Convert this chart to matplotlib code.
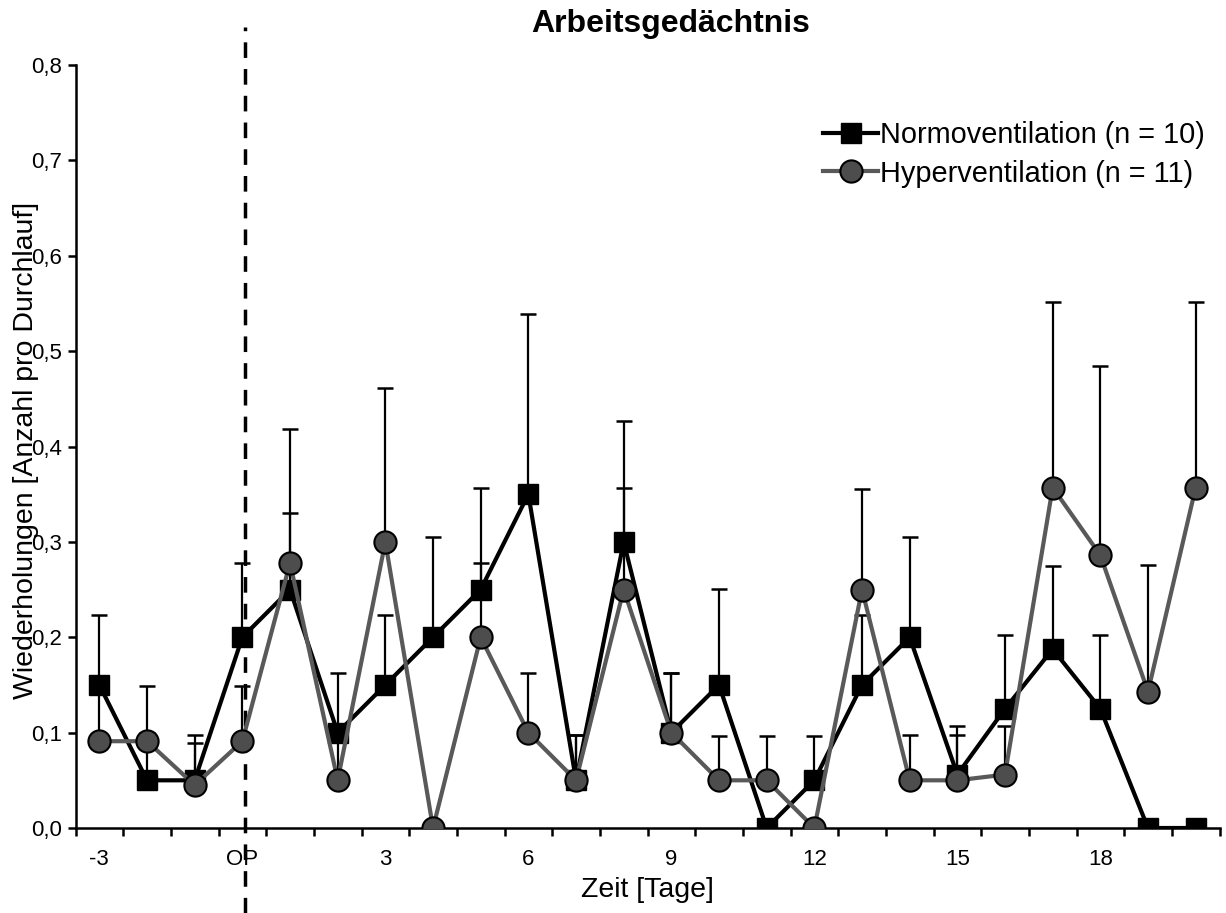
import numpy as np
import matplotlib.pyplot as plt
from matplotlib.ticker import FuncFormatter

plt.rcParams["font.family"] = ["Liberation Sans", "DejaVu Sans"]

days = np.arange(-3, 21)
tick_pos = [-3, 0, 3, 6, 9, 12, 15, 18]
tick_lab = ["-3", "OP", "3", "6", "9", "12", "15", "18"]

normo = [0.15, 0.05, 0.05, 0.2, 0.25, 0.1, 0.15, 0.2, 0.25, 0.35, 0.05, 0.3,
         0.1, 0.15, 0.0, 0.05, 0.15, 0.2, 0.056, 0.125, 0.1875, 0.125, 0.0, 0.0]
normo_se = [0.073, 0.05, 0.047, 0.0775, 0.08, 0.063, 0.073, 0.105, 0.106, 0.189, 0.047, 0.127,
            0.062, 0.101, 0.0, 0.0465, 0.073, 0.105, 0.051, 0.077, 0.0875, 0.077, 0.0, 0.0]

hyper = [0.091, 0.091, 0.045, 0.091, 0.278, 0.05, 0.3, 0.0, 0.2, 0.1, 0.05, 0.25,
         0.1, 0.05, 0.05, 0.0, 0.25, 0.05, 0.05, 0.056, 0.357, 0.286, 0.143, 0.357]
hyper_se = [0.061, 0.058, 0.044, 0.058, 0.14, 0.047, 0.161, 0.0, 0.078, 0.062, 0.047, 0.106,
            0.062, 0.0465, 0.0465, 0.0, 0.105, 0.047, 0.047, 0.051, 0.194, 0.198, 0.133, 0.194]

fig = plt.figure(figsize=(12.26, 9.13), dpi=100)
ax = fig.add_axes([0.0616, 0.0931, 0.9331, 0.8357])

# error bars (upper only) beneath the markers
ax.errorbar(days, normo, yerr=[np.zeros(len(normo)), normo_se], fmt="none",
            ecolor="black", elinewidth=1.6, capsize=5.5, capthick=1.8, zorder=2)
ax.errorbar(days, hyper, yerr=[np.zeros(len(hyper)), hyper_se], fmt="none",
            ecolor="black", elinewidth=1.6, capsize=5.5, capthick=1.8, zorder=2)

ax.plot(days, normo, color="black", lw=3, marker="s", ms=14.5, mfc="black",
        mec="black", label="Normoventilation (n = 10)", zorder=3)
ax.plot(days, hyper, color="#595959", lw=3, marker="o", ms=16, mfc="#4d4d4d",
        mec="black", mew=1.5, label="Hyperventilation (n = 11)", zorder=4)

# OP marker line
ax.axvline(0.05, ymin=-0.111, ymax=1.05, color="black", lw=2.5,
           ls=(0, (4.5, 3.2)), clip_on=False, zorder=1)

ax.set_xlim(-3.5, 20.5)
ax.set_ylim(0, 0.8)
ax.set_yticks(np.arange(0, 0.81, 0.1))
ax.yaxis.set_major_formatter(FuncFormatter(lambda v, p: f"{v:.1f}".replace(".", ",")))
ax.set_xticks(np.arange(-3.5, 20.6, 1))
ax.set_xticklabels([])
ax.set_xticks(tick_pos, minor=True)
ax.set_xticklabels(tick_lab, minor=True)
ax.tick_params(axis="x", which="minor", length=0, labelsize=16, pad=15)
ax.tick_params(axis="both", which="major", direction="out", length=6, width=1.8, labelsize=16)

for s in ["top", "right"]:
    ax.spines[s].set_visible(False)
for s in ["left", "bottom"]:
    ax.spines[s].set_linewidth(1.8)

ax.set_xlabel("Zeit [Tage]", fontsize=20.5, labelpad=5)
ax.set_ylabel("Wiederholungen [Anzahl pro Durchlauf]", fontsize=20.5)
ax.yaxis.set_label_coords(-0.032, 0.495)
ax.set_title("Arbeitsgedächtnis", fontsize=23, fontweight="bold", x=0.52, y=1.032)

ax.legend(loc="upper right", bbox_to_anchor=(1.0, 0.945), frameon=False, fontsize=20.8,
          handlelength=1.9, handletextpad=0.08, labelspacing=0.35, borderpad=0)

fig.savefig("out.png", dpi=100)
